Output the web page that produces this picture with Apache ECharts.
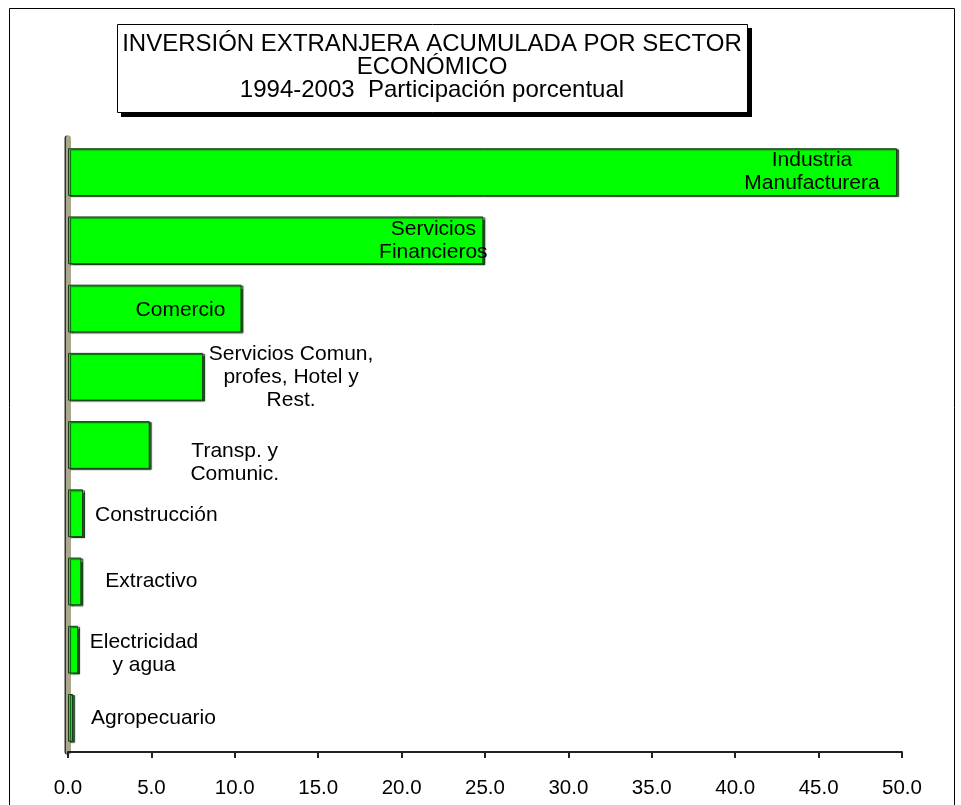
<!DOCTYPE html>
<html>
<head>
<meta charset="utf-8">
<script src="https://cdn.jsdelivr.net/npm/echarts@6/dist/echarts.min.js"></script>
<style>
html,body{margin:0;padding:0;background:#fff;}
#chart{width:961px;height:805px;}
</style>
</head>
<body>
<div id="chart"></div>
<script>
// ---- data (bottom to top) ----
var categories = ['Agropecuario', 'Electricidad y agua', 'Extractivo', 'Construcción',
  'Transp. y Comunic.', 'Servicios Comun, profes, Hotel y Rest.', 'Comercio',
  'Servicios Financieros', 'Industria Manufacturera'];
var values = [0.3, 0.6, 0.8, 0.9, 4.9, 8.1, 10.4, 24.9, 49.7];
var labelTexts = ['Agropecuario', 'Electricidad\ny agua', 'Extractivo', 'Construcción',
  'Transp. y\nComunic.', 'Servicios Comun,\nprofes, Hotel y\nRest.', 'Comercio',
  'Servicios\nFinancieros', 'Industria\nManufacturera'];
var titleLines = ['INVERSIÓN EXTRANJERA ACUMULADA POR SECTOR', 'ECONÓMICO',
  '1994-2003  Participación porcentual'];
var xMin = 0, xMax = 50, xStep = 5;

// ---- label placement styles (per bar) ----
var labelPlacement = [
  {position: 'right', distance: 18, align: 'left'},
  {position: 'right', distance: 66, align: 'center', offset: [0, 4]},
  {position: 'right', distance: 24, align: 'left'},
  {position: 'right', distance: 12, align: 'left', offset: [0, 2]},
  {position: 'right', distance: 85, align: 'center', offset: [0, 18]},
  {position: 'right', distance: 88, align: 'center'},
  {position: 'insideRight', distance: 61, align: 'center', offset: [0, 2]},
  {position: 'insideRight', distance: 50, align: 'center'},
  {position: 'insideRight', distance: 85, align: 'center'}
];

var FONT = "'Liberation Sans', Arial, sans-serif";

var seriesData = values.map(function (v, i) {
  var p = labelPlacement[i];
  return {
    value: v,
    label: {
      show: true,
      formatter: labelTexts[i],
      position: p.position,
      distance: p.distance,
      align: p.align,
      offset: p.offset || [0, 0],
      color: '#000',
      fontSize: 21,
      fontFamily: FONT,
      lineHeight: 23
    }
  };
});

var chart = echarts.init(document.getElementById('chart'), null, {renderer: 'canvas'});
chart.setOption({
  backgroundColor: '#fff',
  animation: false,
  grid: {left: 68, right: 59, top: 138, bottom: 53, containLabel: false},
  xAxis: {
    type: 'value',
    min: xMin, max: xMax, interval: xStep,
    splitLine: {show: false},
    axisLine: {show: true, lineStyle: {color: '#222', width: 2}},
    axisTick: {show: true, length: 6, lineStyle: {color: '#222', width: 2}},
    axisLabel: {
      color: '#000', fontSize: 20.5, fontFamily: FONT, margin: 26,
      formatter: function (v) { return v.toFixed(1); }
    }
  },
  yAxis: {
    type: 'category',
    data: categories,
    offset: 2.5,
    axisLine: {show: true, lineStyle: {color: '#aba78c', width: 5,
      shadowColor: '#333', shadowOffsetX: -1.5, shadowBlur: 0}},
    axisTick: {show: false},
    axisLabel: {show: false},
    splitLine: {show: false}
  },
  series: [{
    type: 'bar',
    data: seriesData,
    barCategoryGap: '30%',
    itemStyle: {
      color: '#00ff00',
      borderColor: '#1e3d1e',
      borderWidth: 1,
      shadowColor: 'rgba(20,60,20,0.9)',
      shadowOffsetX: 2,
      shadowOffsetY: 1,
      shadowBlur: 1
    },
    z: 3
  }],
  graphic: [
    {
      type: 'rect', z: -10, silent: true,
      shape: {x: 9.5, y: 8.5, width: 945, height: 820},
      style: {fill: 'none', stroke: '#000', lineWidth: 1}
    },
    {
      type: 'rect', z: 9, silent: true,
      shape: {x: 121, y: 28, width: 631, height: 89},
      style: {fill: '#000'}
    },
    {
      type: 'rect', z: 10, silent: true,
      shape: {x: 117.5, y: 24.5, width: 630, height: 88},
      style: {fill: '#fff', stroke: '#000', lineWidth: 1}
    },
    {
      type: 'text', z: 11, silent: true,
      x: 432, y: 33,
      style: {
        text: titleLines.join('\n'),
        align: 'center',
        verticalAlign: 'top',
        fill: '#000',
        fontSize: 24,
        fontFamily: FONT,
        lineHeight: 23
      }
    }
  ]
});
</script>
</body>
</html>
